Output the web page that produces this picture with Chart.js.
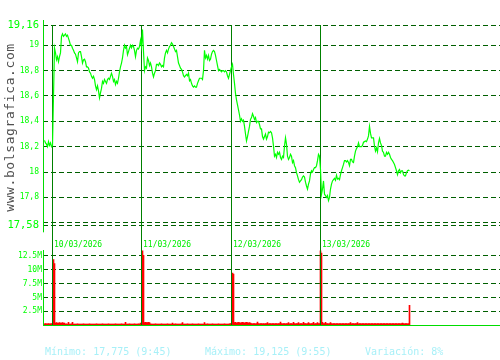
<!DOCTYPE html>
<html>
<head>
<meta charset="utf-8">
<script src="https://cdn.jsdelivr.net/npm/chart.js@4.4.1/dist/chart.umd.min.js"></script>
<style>
  html, body { margin: 0; padding: 0; background: #ffffff; }
  #wrap { position: relative; width: 500px; height: 360px; overflow: hidden; background: #ffffff; }
  #priceCanvas { position: absolute; left: 0; top: 0; }
  #volCanvas { position: absolute; left: 0; top: 236px; }
  .stat { position: absolute; top: 346px; font: 10px/12px 'DejaVu Sans Mono', monospace; color: #a8f0f8; white-space: pre; }
</style>
</head>
<body>
<div id="wrap">
  <canvas id="priceCanvas" width="500" height="236"></canvas>
  <canvas id="volCanvas" width="500" height="124"></canvas>
  <div class="stat" id="s0" style="left:45px"></div>
  <div class="stat" id="s1" style="left:205px"></div>
  <div class="stat" id="s2" style="left:365px"></div>
</div>
<script>
// ---------------- DATA ----------------
const watermark = 'www.bolsagrafica.com';
const dayStarts = [9, 98, 188, 277];
const dayLabels = ['10/03/2026', '11/03/2026', '12/03/2026', '13/03/2026'];
const priceTicks = [17.58, 17.6, 17.8, 18, 18.2, 18.4, 18.6, 18.8, 19, 19.16];
const priceTickLabels = ['17,58', '', '17,8', '18', '18,2', '18,4', '18,6', '18,8', '19', '19,16'];
const volumeTicks = [2.5, 5, 7.5, 10, 12.5];
const volumeTickLabels = ['2.5M', '5M', '7.5M', '10M', '12.5M'];
const statsLabels = ['Mínimo: 17,775 (9:45)', 'Máximo: 19,125 (9:55)', 'Variación: 8%'];

// price per time slot (one slot per pixel column)
const prices = [
  null,
  18.25,18.23,18.22,18.2,18.24,18.21,18.23,18.2,18.21,
  18.6,
  18.977,18.94,18.885,18.91,18.87,18.91,18.94,19.07,19.09,19.07,
  19.08,19.09,19.07,19.08,19.055,19.03,19.0,19.0,18.977,18.96,
  18.94,18.93,18.9,18.87,18.94,18.95,18.95,18.91,18.86,18.885,
  18.89,18.87,18.83,18.83,18.82,18.79,18.78,18.755,18.74,18.755,
  18.73,18.68,18.65,18.68,18.64,18.585,18.625,18.66,18.715,18.7,
  18.73,18.715,18.7,18.73,18.74,18.73,18.755,18.78,18.755,18.715,
  18.73,18.69,18.715,18.7,18.74,18.79,18.83,18.86,18.9,18.96,
  19.0,18.977,18.99,18.925,18.95,18.977,19.0,18.98,19.0,18.99,
  18.96,18.91,18.96,18.977,18.97,18.99,19.04,18.99,
  19.125,18.95,18.8,18.83,18.82,18.9,18.88,18.84,18.86,18.83,
  18.78,18.75,18.78,18.8,18.85,18.85,18.84,18.86,18.85,18.83,
  18.84,18.83,18.9,18.94,18.96,18.94,18.97,18.99,19.0,19.02,
  19.01,18.99,18.97,18.95,18.96,18.91,18.86,18.84,18.82,18.81,
  18.79,18.76,18.75,18.76,18.77,18.76,18.78,18.72,18.73,18.7,
  18.68,18.67,18.68,18.67,18.67,18.7,18.72,18.74,18.74,18.74,
  18.73,18.8,18.96,18.9,18.92,18.89,18.92,18.88,18.89,18.93,
  18.95,18.96,18.95,18.92,18.88,18.84,18.8,18.81,18.8,18.79,
  18.8,18.8,18.79,18.8,18.79,18.76,
  18.74,18.77,18.8,18.83,18.85,18.77,18.7,18.62,18.57,18.53,
  18.49,18.45,18.4,18.42,18.4,18.41,18.36,18.3,18.245,18.28,
  18.32,18.36,18.415,18.43,18.46,18.44,18.415,18.43,18.39,18.4,
  18.4,18.375,18.34,18.34,18.28,18.26,18.28,18.3,18.26,18.28,
  18.315,18.31,18.32,18.31,18.27,18.205,18.125,18.14,18.115,18.155,
  18.14,18.155,18.115,18.1,18.125,18.115,18.205,18.27,18.22,18.125,
  18.1,18.115,18.14,18.125,18.075,18.09,18.05,18.035,17.995,17.97,
  17.94,17.92,17.93,17.94,17.96,17.97,17.96,17.92,17.89,17.866,
  17.905,17.93,17.985,18.01,18.0,18.02,18.035,
  18.035,18.05,18.09,18.14,18.125,18.02,17.825,17.866,17.93,17.825,
  17.815,17.8,17.815,17.775,17.8,17.866,17.905,17.93,17.94,17.95,
  17.935,17.975,17.945,17.95,17.94,17.98,18.01,18.035,18.06,18.09,
  18.09,18.08,18.09,18.075,18.05,18.1,18.1,18.08,18.075,18.125,
  18.165,18.185,18.2,18.23,18.2,18.2,18.2,18.21,18.235,18.24,
  18.245,18.24,18.26,18.285,18.36,18.305,18.27,18.27,18.27,18.205,
  18.165,18.19,18.16,18.23,18.265,18.23,18.21,18.165,18.155,18.125,
  18.125,18.155,18.14,18.155,18.14,18.115,18.1,18.09,18.075,18.06,
  18.035,18.01,17.98,18.01,18.02,17.995,18.01,18.01,17.98,17.97,
  17.97,17.995,18.01,18.015,18.01
];

// volume per time slot, in millions
const volumes = [
  null,
  0.25,0.3,0.25,0.25,0.3,0.25,0.25,0.3,0.25,
  11.8,11.1,
  0.4,0.45,0.4,0.4,0.45,0.4,0.4,0.45,0.4,0.4,
  0.22,0.25,0.2,0.5,0.22,0.2,0.25,0.5,0.22,0.2,
  0.22,0.2,0.25,0.22,0.2,0.22,0.2,0.22,0.25,0.2,
  0.22,0.2,0.22,0.2,0.25,0.22,0.2,0.22,0.2,0.22,
  0.2,0.25,0.22,0.2,0.22,0.2,0.22,0.25,0.2,0.22,
  0.2,0.22,0.2,0.25,0.22,0.2,0.22,0.2,0.22,0.2,
  0.25,0.22,0.2,0.22,0.2,0.22,0.25,0.2,0.22,0.2,
  0.5,0.22,0.2,0.22,0.25,0.2,0.22,0.2,0.22,0.25,
  0.2,0.22,0.2,0.25,0.22,0.4,
  0.3,
  13.4,12.6,
  0.45,0.5,0.45,0.45,0.5,0.45,
  0.25,0.22,0.2,0.22,0.2,0.25,0.22,0.2,0.22,0.2,
  0.22,0.25,0.2,0.22,0.2,0.22,0.2,0.25,0.22,0.2,
  0.22,0.2,0.4,0.22,0.2,0.25,0.22,0.2,0.22,0.2,
  0.22,0.25,0.45,0.2,0.22,0.2,0.22,0.25,0.2,0.22,
  0.2,0.22,0.25,0.2,0.22,0.2,0.22,0.2,0.25,0.22,
  0.2,0.22,0.2,0.22,0.45,0.2,0.22,0.25,0.2,0.22,
  0.2,0.22,0.25,0.2,0.22,0.2,0.22,0.2,0.25,0.22,
  0.2,0.22,0.2,0.22,0.25,0.2,0.22,0.2,0.22,0.25,
  0.3,0.3,
  9.4,9.2,
  0.45,0.5,0.4,0.45,0.5,0.45,0.4,0.45,0.5,0.45,0.4,0.45,0.5,0.45,0.4,0.45,0.4,
  0.3,0.25,0.3,0.28,0.25,0.3,0.55,0.28,0.25,0.3,
  0.28,0.25,0.3,0.25,0.28,0.3,0.45,0.25,0.3,0.28,
  0.25,0.3,0.28,0.25,0.3,0.28,0.25,0.3,0.28,0.55,
  0.3,0.25,0.28,0.3,0.25,0.28,0.3,0.45,0.25,0.3,
  0.28,0.25,0.5,0.3,0.25,0.28,0.3,0.45,0.25,0.3,
  0.28,0.25,0.5,0.3,0.28,0.25,0.3,0.45,0.28,0.25,
  0.3,0.28,0.5,0.25,0.3,0.28,0.45,0.3,0.28,
  13.4,13.0,
  0.5,0.3,0.28,0.5,0.3,0.28,0.25,0.3,0.45,0.28,
  0.25,0.3,0.28,0.25,0.3,0.28,0.25,0.3,0.28,0.25,
  0.3,0.28,0.25,0.3,0.28,0.25,0.3,0.28,0.45,0.25,
  0.3,0.28,0.25,0.3,0.28,0.45,0.25,0.3,0.28,0.25,
  0.3,0.28,0.25,0.3,0.28,0.25,0.3,0.28,0.25,0.3,
  0.28,0.25,0.3,0.28,0.25,0.3,0.28,0.25,0.3,0.28,
  0.25,0.3,0.28,0.25,0.3,0.28,0.25,0.3,0.28,0.25,
  0.3,0.28,0.25,0.3,0.28,0.25,0.3,0.28,0.25,0.3,
  0.4,0.28,0.25,0.3,0.28,0.25,0.3,3.6
];

// ---------------- STYLE ----------------
const FONT = "'DejaVu Sans Mono', 'Liberation Mono', monospace";
const GRID = '#005f00';
const DAYLINE = '#008000';
const AXIS = '#00dd00';
const TICKC = '#00ff00';
const DASH = [5, 3];
const xMin = -0.5, xMax = 456.5;

statsLabels.forEach((t, i) => { document.getElementById('s' + i).textContent = t; });

function fixWidth(scale) { scale.width = 43; }

const priceDeco = {
  id: 'priceDeco',
  beforeDatasetsDraw(chart) {
    const ctx = chart.ctx, xs = chart.scales.x, a = chart.chartArea;
    ctx.save();
    ctx.strokeStyle = DAYLINE; ctx.lineWidth = 1;
    dayStarts.forEach(d => {
      const px = xs.getPixelForValue(d);
      ctx.beginPath(); ctx.moveTo(px, a.top); ctx.lineTo(px, chart.height); ctx.stroke();
    });
    ctx.restore();
  },
  afterDraw(chart) {
    const ctx = chart.ctx, a = chart.chartArea;
    ctx.save();
    ctx.strokeStyle = AXIS; ctx.lineWidth = 1;
    ctx.beginPath(); ctx.moveTo(a.left + 0.5, a.top - 5); ctx.lineTo(a.left + 0.5, a.bottom + 7); ctx.stroke();
    // watermark
    ctx.fillStyle = '#505050';
    ctx.font = "13px " + FONT;
    ctx.textAlign = 'center'; ctx.textBaseline = 'alphabetic';
    ctx.translate(14, 127.5);
    ctx.rotate(-Math.PI / 2);
    if ('letterSpacing' in ctx) ctx.letterSpacing = '0.6px';
    ctx.fillText(watermark, 0, 0);
    ctx.restore();
  }
};

const volDeco = {
  id: 'volDeco',
  afterDatasetsDraw(chart) {
    const ctx = chart.ctx, xs = chart.scales.x, a = chart.chartArea;
    ctx.save();
    ctx.strokeStyle = DAYLINE; ctx.lineWidth = 1;
    dayStarts.forEach(d => {
      const px = xs.getPixelForValue(d);
      ctx.beginPath(); ctx.moveTo(px, 0); ctx.lineTo(px, a.bottom); ctx.stroke();
    });
    ctx.fillStyle = '#00ee00';
    ctx.font = "8px " + FONT;
    ctx.textAlign = 'left'; ctx.textBaseline = 'alphabetic';
    dayStarts.forEach((d, i) => {
      const px = xs.getPixelForValue(d);
      ctx.fillText(dayLabels[i], px + 1.5, 10.5);
    });
    ctx.strokeStyle = AXIS;
    const yb = Math.round(a.bottom) + 0.5;
    ctx.beginPath(); ctx.moveTo(a.left + 0.5, a.top); ctx.lineTo(a.left + 0.5, yb); ctx.stroke();
    ctx.beginPath(); ctx.moveTo(a.left, yb); ctx.lineTo(a.right, yb); ctx.stroke();
    ctx.restore();
  }
};

new Chart(document.getElementById('priceCanvas'), {
  type: 'line',
  data: {
    datasets: [{
      data: prices.map((v, i) => ({ x: i, y: v })),
      borderColor: '#00ff00',
      borderWidth: 1.2,
      pointRadius: 0,
      tension: 0,
      fill: false,
      spanGaps: false
    }]
  },
  options: {
    responsive: false,
    animation: false,
    devicePixelRatio: 1,
    layout: { padding: { top: 25, bottom: 10.7, left: 0, right: 0 } },
    plugins: { legend: { display: false }, tooltip: { enabled: false } },
    scales: {
      x: { type: 'linear', min: xMin, max: xMax, offset: false, display: false },
      y: {
        type: 'linear', min: 17.58, max: 19.16,
        afterBuildTicks(scale) { scale.ticks = priceTicks.map(v => ({ value: v })); },
        afterFit: fixWidth,
        grid: { color: GRID, lineWidth: 1, drawTicks: false },
        border: { display: false, dash: DASH },
        ticks: {
          color: TICKC,
          padding: 4,
          autoSkip: false,
          font: (c) => ({ family: FONT, size: (c.tick && (c.tick.value === 19.16 || c.tick.value === 17.58)) ? 10.5 : 8 }),
          callback: (value) => { const k = priceTicks.indexOf(value); return k >= 0 ? priceTickLabels[k] : ''; }
        }
      }
    }
  },
  plugins: [priceDeco]
});

new Chart(document.getElementById('volCanvas'), {
  type: 'bar',
  data: {
    datasets: [{
      data: volumes.map((v, i) => ({ x: i, y: v })),
      backgroundColor: '#ff0000',
      borderWidth: 0,
      barThickness: 1
    }]
  },
  options: {
    responsive: false,
    animation: false,
    devicePixelRatio: 1,
    layout: { padding: { top: 14, bottom: 34.8, left: 0, right: 0 } },
    plugins: { legend: { display: false }, tooltip: { enabled: false } },
    scales: {
      x: { type: 'linear', min: xMin, max: xMax, offset: false, display: false },
      y: {
        type: 'linear', min: 0, max: 13.54,
        afterBuildTicks(scale) { scale.ticks = volumeTicks.map(v => ({ value: v })); },
        afterFit: fixWidth,
        grid: { color: GRID, lineWidth: 1, drawTicks: false },
        border: { display: false, dash: DASH },
        ticks: {
          color: TICKC,
          padding: 1,
          autoSkip: false,
          font: { family: FONT, size: 8 },
          callback: (value) => { const k = volumeTicks.indexOf(value); return k >= 0 ? volumeTickLabels[k] : ''; }
        }
      }
    }
  },
  plugins: [volDeco]
});
</script>
</body>
</html>
